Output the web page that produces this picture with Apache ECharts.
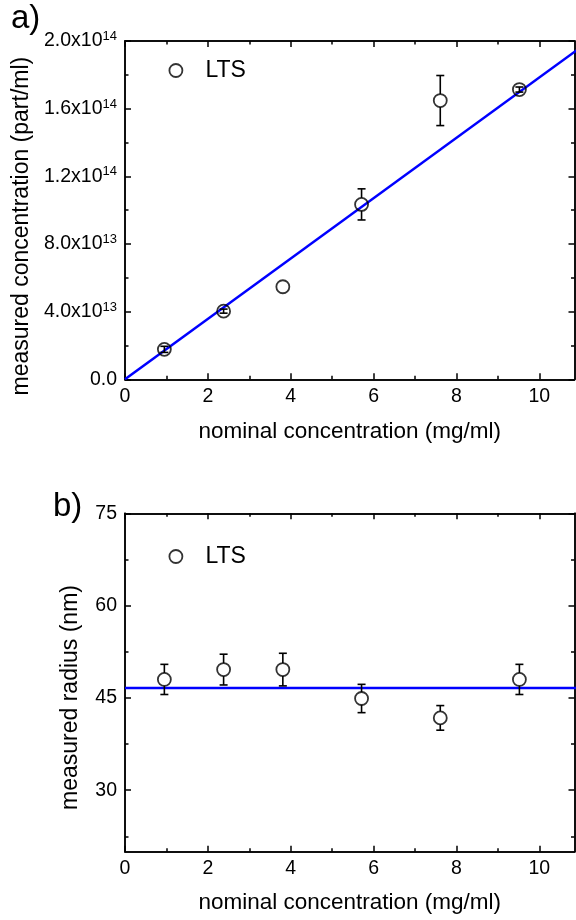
<!DOCTYPE html>
<html>
<head>
<meta charset="utf-8">
<script src="https://cdn.jsdelivr.net/npm/echarts@6/dist/echarts.min.js"></script>
<style>html,body{margin:0;padding:0;background:#fff}#c{width:576px;height:920px}</style>
</head>
<body>
<div id="c"></div>
<script>
// ---- data (panel a) ----
const nominalConc = [0.95, 2.38, 3.81, 5.71, 7.61, 9.52];
const measuredConc = [1.77e13, 4.03e13, 5.47e13, 1.034e14, 1.648e14, 1.713e14];
const measuredConcErr = [0.18e13, 0.12e13, 0, 0.92e13, 1.48e13, 0.15e13];
const fitConcX = [0, 11];
const fitConcY = [0, 1.963e14];
// ---- data (panel b) ----
const measuredRadius = [48.0, 49.6, 49.6, 44.9, 41.75, 48.0];
const measuredRadiusErr = [2.45, 2.5, 2.65, 2.3, 2.0, 2.45];
const fitRadiusX = [0, 11];
const fitRadiusY = [46.6, 46.6];
// ---- ticks ----
const xMajor = [0, 2, 4, 6, 8, 10];
const xMinor = [1, 3, 5, 7, 9];
const yAMajor = [0, 4e13, 8e13, 1.2e14, 1.6e14, 2e14];
const yAMinor = [2e13, 6e13, 1e14, 1.4e14, 1.8e14];
const yAMant = ['0.0', '4.0', '8.0', '1.2', '1.6', '2.0'];
const yAExp = ['', '13', '13', '14', '14', '14'];
const yBMajor = [30, 45, 60, 75];
const yBMinor = [22.5, 37.5, 52.5, 67.5];

const FONT = 'Liberation Sans';
const BLACK = '#000';
const XMAX = 10.85;

function axis(gridIndex, position, min, max, ticks, len, opts) {
  opts = opts || {};
  return Object.assign({
    type: 'value', gridIndex: gridIndex, position: position, min: min, max: max,
    axisLine: { show: true, onZero: false, lineStyle: { color: BLACK, width: 1.5 } },
    axisTick: { show: true, inside: true, length: len, customValues: ticks, lineStyle: { color: BLACK, width: 1.5 } },
    axisLabel: { show: false },
    splitLine: { show: false },
    minorTick: { show: false }
  }, opts);
}

const xLabel = { show: true, customValues: xMajor, margin: 7, color: BLACK, fontFamily: FONT, fontSize: 19.5, formatter: v => String(Math.round(v)) };
const xName = (gap) => ({ name: 'nominal concentration (mg/ml)', nameLocation: 'middle', nameGap: gap, nameTextStyle: { color: BLACK, fontFamily: FONT, fontSize: 22.5 } });

const xAxes = [];
const yAxes = [];
for (let g = 0; g < 2; g++) {
  xAxes.push(axis(g, 'bottom', 0, XMAX, xMajor, 6, Object.assign({ axisLabel: xLabel }, xName(g === 0 ? 41 : 40))));
  xAxes.push(axis(g, 'bottom', 0, XMAX, xMinor, 3.5));
  xAxes.push(axis(g, 'top', 0, XMAX, xMajor, 6));
  xAxes.push(axis(g, 'top', 0, XMAX, xMinor, 3.5));
}
// panel a y axes
yAxes.push(axis(0, 'left', 0, 2e14, yAMajor, 6, {
  axisLabel: {
    show: true, customValues: yAMajor, margin: 8, color: BLACK, fontFamily: FONT, fontSize: 19.5,
    formatter: function (v) {
      let i = 0, best = Infinity;
      yAMajor.forEach((t, k) => { const d = Math.abs(t - v); if (d < best) { best = d; i = k; } });
      return yAExp[i] ? '{b|' + yAMant[i] + 'x10}{s|' + yAExp[i] + '}' : '{b|' + yAMant[i] + '}';
    },
    rich: {
      b: { fontFamily: FONT, fontSize: 19.5, color: BLACK },
      s: { fontFamily: FONT, fontSize: 13, color: BLACK, padding: [0, 0, 9, 0] }
    }
  },
  name: 'measured concentration (part/ml)', nameLocation: 'middle', nameGap: 80,
  nameTextStyle: { color: BLACK, fontFamily: FONT, fontSize: 23, padding: [0, 32, 0, 0] }
}));
yAxes.push(axis(0, 'left', 0, 2e14, yAMinor, 3.5));
yAxes.push(axis(0, 'right', 0, 2e14, yAMajor, 6));
yAxes.push(axis(0, 'right', 0, 2e14, yAMinor, 3.5));
// panel b y axes
yAxes.push(axis(1, 'left', 20, 75, yBMajor, 6, {
  axisLabel: { show: true, customValues: yBMajor, margin: 8, color: BLACK, fontFamily: FONT, fontSize: 19.5, formatter: v => String(Math.round(v)) },
  name: 'measured radius (nm)', nameLocation: 'middle', nameGap: 43,
  nameTextStyle: { color: BLACK, fontFamily: FONT, fontSize: 23, padding: [0, 30, 0, 0] }
}));
yAxes.push(axis(1, 'left', 20, 75, yBMinor, 3.5));
yAxes.push(axis(1, 'right', 20, 75, yBMajor, 6));
yAxes.push(axis(1, 'right', 20, 75, yBMinor, 3.5));

function errBars(g, xs, ys, es) {
  return {
    type: 'custom', name: 'err' + g, xAxisIndex: g * 4, yAxisIndex: g * 4, z: 3,
    data: xs.map((x, i) => [x, ys[i], es[i]]),
    renderItem: function (params, api) {
      const c = api.coord([api.value(0), api.value(1)]);
      const t = api.coord([api.value(0), api.value(1) + api.value(2)]);
      const b = api.coord([api.value(0), api.value(1) - api.value(2)]);
      const R = 6.5, cap = 4;
      const st = { stroke: BLACK, lineWidth: 1.6, fill: null };
      const ln = (x1, y1, x2, y2) => ({ type: 'line', shape: { x1: x1, y1: y1, x2: x2, y2: y2 }, style: st });
      const ch = [];
      if (c[1] - t[1] < 0.5) return { type: 'group', children: ch };
      if (c[1] - t[1] > R) {
        ch.push(ln(c[0], t[1], c[0], c[1] - R));
        ch.push(ln(c[0], c[1] + R, c[0], b[1]));
      } else {
        ch.push(ln(c[0], t[1], c[0], b[1]));
      }
      ch.push(ln(c[0] - cap, t[1], c[0] + cap, t[1]));
      ch.push(ln(c[0] - cap, b[1], c[0] + cap, b[1]));
      return { type: 'group', children: ch };
    }
  };
}

function scatter(g, xs, ys) {
  return {
    type: 'scatter', name: 'LTS', xAxisIndex: g * 4, yAxisIndex: g * 4, z: 4,
    symbol: 'circle', symbolSize: 13,
    itemStyle: { color: 'rgba(255,255,255,0)', borderColor: BLACK, borderWidth: 1.8 },
    data: xs.map((x, i) => [x, ys[i]])
  };
}

function fitLine(g, xs, ys) {
  return {
    type: 'line', name: 'fit' + g, xAxisIndex: g * 4, yAxisIndex: g * 4, z: 2,
    showSymbol: false, symbol: 'none', clip: true,
    lineStyle: { color: '#0000ff', width: 2.5 },
    data: xs.map((x, i) => [x, ys[i]])
  };
}

function legend(top) {
  return {
    data: ['LTS'], left: 168.5, top: top, padding: 0, icon: 'circle',
    itemWidth: 13, itemHeight: 13, selectedMode: false,
    itemStyle: { color: 'rgba(255,255,255,0)', borderColor: BLACK, borderWidth: 1.8 },
    textStyle: { color: BLACK, fontFamily: FONT, fontSize: 23, padding: [0, 0, 0, 18] }
  };
}

const chart = echarts.init(document.getElementById('c'), null, { renderer: 'canvas' });
chart.setOption({
  animation: false,
  backgroundColor: '#fff',
  grid: [
    { left: 125, top: 41, width: 449.5, height: 338.3 },
    { left: 125, top: 513.3, width: 449.5, height: 338.4 }
  ],
  xAxis: xAxes,
  yAxis: yAxes,
  legend: [legend(59), legend(545)],
  graphic: [
    { type: 'text', left: 11, top: 2, style: { text: 'a)', fontFamily: FONT, fontSize: 33, fill: BLACK } },
    { type: 'text', left: 53, top: 490, style: { text: 'b)', fontFamily: FONT, fontSize: 33, fill: BLACK } }
  ],
  series: [
    fitLine(0, fitConcX, fitConcY),
    errBars(0, nominalConc, measuredConc, measuredConcErr),
    scatter(0, nominalConc, measuredConc),
    fitLine(1, fitRadiusX, fitRadiusY),
    errBars(1, nominalConc, measuredRadius, measuredRadiusErr),
    scatter(1, nominalConc, measuredRadius)
  ]
});
</script>
</body>
</html>
